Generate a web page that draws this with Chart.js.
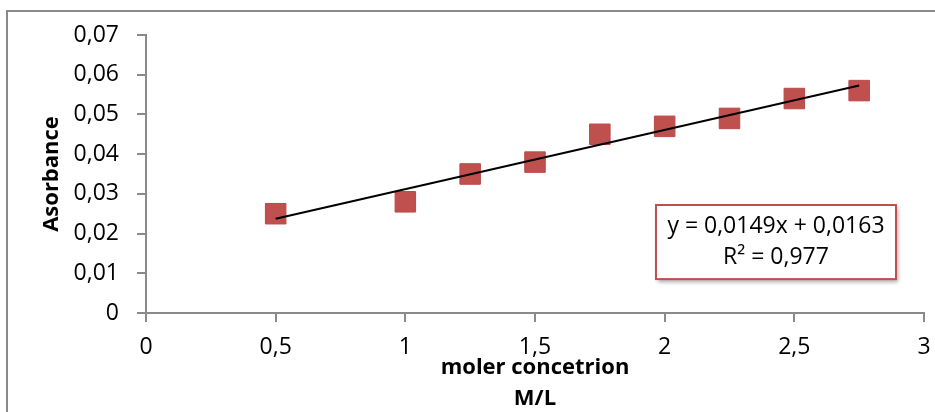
<!DOCTYPE html>
<html>
<head>
<meta charset="utf-8">
<script src="https://cdn.jsdelivr.net/npm/chart.js@4.4.1/dist/chart.umd.min.js"></script>
<style>
  html, body { margin: 0; padding: 0; background: #fff; }
  #wrap { position: relative; width: 935px; height: 412px; }
</style>
</head>
<body>
<div id="wrap"><canvas id="chart" width="935" height="412"></canvas></div>
<script>
// dados
const concentrations = [0.5, 1, 1.25, 1.5, 1.75, 2, 2.25, 2.5, 2.75];
const absorbances = [0.025, 0.028, 0.035, 0.038, 0.045, 0.047, 0.049, 0.054, 0.056];

// linha de tendência (equação mostrada na caixa)
const trendSlope = 0.0149;
const trendIntercept = 0.0163;
const equationLines = ['y = 0,0149x + 0,0163', 'R² = 0,977'];

const yTitle = 'Asorbance';
const xTitle = ['moler concetrion', 'M/L'];

const FONT = '"Open Sans", "Liberation Sans", sans-serif';
const AXIS_GRAY = '#8a8a8a';
const MARKER_RED = '#C0504D';

const xMin = Math.min(...concentrations);
const xMax = Math.max(...concentrations);
const trendPoints = [xMin, xMax].map((x) => ({ x, y: trendSlope * x + trendIntercept }));
const scatterPoints = concentrations.map((x, i) => ({ x, y: absorbances[i] }));

function commaNumber(v, digits) {
  if (Math.abs(v) < 1e-9) return '0';
  return Number(v.toFixed(digits)).toString().replace('.', ',');
}

// moldura cinza (só esquerda e topo aparecem no recorte)
const framePlugin = {
  id: 'frame',
  beforeDraw(chart) {
    const { ctx } = chart;
    ctx.save();
    ctx.strokeStyle = AXIS_GRAY;
    ctx.lineWidth = 2;
    ctx.beginPath();
    ctx.moveTo(7, chart.height + 2);
    ctx.lineTo(7, 11);
    ctx.lineTo(chart.width + 2, 11);
    ctx.stroke();
    ctx.restore();
  },
};

// caixa da equação da tendência
const equationPlugin = {
  id: 'equationBox',
  afterDraw(chart) {
    const { ctx, chartArea: a } = chart;
    const w = a.right - a.left;
    const h = a.bottom - a.top;
    const x0 = a.left + w * 0.6555;
    const x1 = a.left + w * 0.964;
    const y0 = a.top + h * 0.6115;
    const y1 = a.top + h * 0.878;

    ctx.save();
    ctx.shadowColor = 'rgba(0,0,0,0.35)';
    ctx.shadowBlur = 4;
    ctx.shadowOffsetX = 2;
    ctx.shadowOffsetY = 3;
    ctx.fillStyle = '#ffffff';
    ctx.fillRect(x0, y0, x1 - x0, y1 - y0);
    ctx.shadowColor = 'transparent';
    ctx.strokeStyle = MARKER_RED;
    ctx.lineWidth = 2;
    ctx.strokeRect(x0, y0, x1 - x0, y1 - y0);

    ctx.fillStyle = '#000';
    ctx.font = '23px ' + FONT;
    ctx.textAlign = 'center';
    ctx.textBaseline = 'middle';
    const cx = (x0 + x1) / 2;
    const lineGap = 31;
    const cy = (y0 + y1) / 2 - lineGap / 2;
    equationLines.forEach((t, i) => ctx.fillText(t, cx, cy + i * lineGap));
    ctx.restore();
  },
};

new Chart(document.getElementById('chart'), {
  type: 'scatter',
  data: {
    datasets: [
      {
        type: 'line',
        data: trendPoints,
        borderColor: '#000',
        borderWidth: 2,
        pointRadius: 0,
        fill: false,
        order: 0,
      },
      {
        data: scatterPoints,
        pointStyle: 'rect',
        pointRadius: 14.5,
        pointHoverRadius: 14.5,
        backgroundColor: MARKER_RED,
        borderColor: '#B84A47',
        borderWidth: 1,
        order: 1,
      },
    ],
  },
  options: {
    responsive: false,
    animation: false,
    devicePixelRatio: 1,
    layout: { autoPadding: false, padding: { left: 8, top: 35, right: 11, bottom: 0 } },
    plugins: {
      legend: { display: false },
      tooltip: { enabled: false },
    },
    scales: {
      x: {
        type: 'linear',
        min: 0,
        max: 3,
        afterFit(scale) {
          scale.height = 99;
          scale.paddingLeft = 0;
          scale.paddingRight = 0;
        },
        border: { color: AXIS_GRAY, width: 2 },
        grid: { drawOnChartArea: false, drawTicks: true, tickLength: 9, color: AXIS_GRAY, lineWidth: 2 },
        ticks: {
          stepSize: 0.5,
          padding: 12,
          color: '#000',
          font: { family: FONT, size: 23 },
          callback: (v) => commaNumber(v, 1),
        },
        title: {
          display: true,
          text: xTitle,
          color: '#000',
          font: { family: FONT, size: 22, weight: 'bold', lineHeight: 1.41 },
          padding: { top: 0, bottom: -2 },
        },
      },
      y: {
        type: 'linear',
        min: 0,
        max: 0.07,
        afterFit(scale) {
          scale.width = 138;
          scale.paddingTop = 0;
          scale.paddingBottom = 0;
        },
        border: { color: AXIS_GRAY, width: 2 },
        grid: { drawOnChartArea: false, drawTicks: true, tickLength: 9, color: AXIS_GRAY, lineWidth: 2 },
        ticks: {
          stepSize: 0.01,
          padding: 18,
          color: '#000',
          font: { family: FONT, size: 23 },
          callback: (v) => commaNumber(v, 2),
        },
        title: {
          display: true,
          text: yTitle,
          color: '#000',
          font: { family: FONT, size: 22, weight: 'bold', lineHeight: 1.2 },
          padding: { top: 31, bottom: 0 },
        },
      },
    },
  },
  plugins: [framePlugin, equationPlugin],
});
</script>
</body>
</html>
